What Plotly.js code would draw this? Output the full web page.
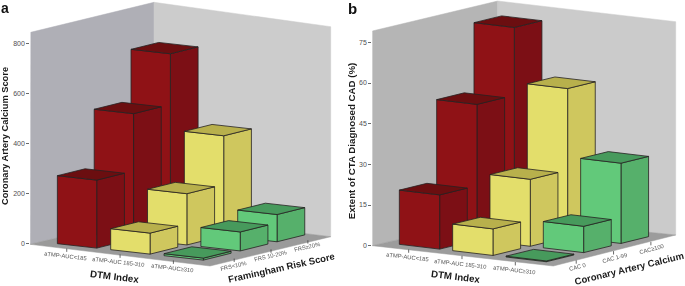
<!DOCTYPE html>
<html><head><meta charset="utf-8">
<script src="https://cdn.plot.ly/plotly-3.0.1.min.js"></script>
<style>html,body{margin:0;padding:0;background:#fff;overflow:hidden}
#chart .main-svg{will-change:opacity;opacity:.999}</style>
</head><body><div id="chart" style="width:685px;height:286px"></div>
<script>
// ---- data ----
const dtmLabels = ['aTMP-AUC<185', 'aTMP-AUC 185-310', 'aTMP-AUC≥310'];
const frsLabels = ['FRS<10%', 'FRS 10-20%', 'FRS≥20%'];
const cacLabels = ['CAC 0', 'CAC 1-99', 'CAC≥100'];
const calciumRed = [272, 501, 704];
const calciumYellow = [84, 205, 400];
const calciumGreen = [8, 76, 109];
const extentRed = [20, 50, 75];
const extentYellow = [9.8, 24.7, 54.8];
const extentGreen = [0.3, 9.7, 29.6];
const calciumTicks = [0, 200, 400, 600, 800];
const extentTicks = [0, 15, 30, 45, 60, 75];

// ---- styles ----
const W = 685, H = 286;
const faceColors = [
  {front:'#8f1216', side:'#7c0f15', top:'#6b0e10'},
  {front:'#e3de6b', side:'#cfc75e', top:'#b8b04c'},
  {front:'#62c97a', side:'#56b06b', top:'#479a5c'}
];
const FONT = '"Liberation Sans", Arial, sans-serif';

// ---- panel geometry (oblique view), page pixels ----
const panels = [
 { id:'', x0:30.3, x1:338, y0:243.7, k:0.25, yBottom:272,
   ex:[53.33,6], ey:[36.83,-9.17], c:[90.9,242.45], hw:.369, hd:.376,
   L:[30,244.3], F:[210,266], R:[330.7,236.7], B:[154,215],
   Lt:[30.7,32.3], Bt:[154,2.3], Rt:[330.7,26.7],
   leftWall:'#afafb6', backWall:'#cccccc', floor:'#9a9a9a',
   jEdge:-.656, iEdge:2.687,
   vals:[calciumRed,calciumYellow,calciumGreen], ticks:calciumTicks,
   yTitle:'Coronary Artery Calcium Score', yTitleSize:9.3, standoff:7.5, jLabels:frsLabels,
   xName:'DTM Index', xNamePos:[115,276], xNameRot:7,
   zName:'Framingham Risk Score', zNamePos:[281.7,267.5], zNameRot:-12.5,
   iLabelOff:[-1.5,7], jLabelOff:[-1,7], jRot:-13 },
 { id:'2', x0:372.3, x1:685, y0:245.7, k:2.711, yBottom:282,
   ex:[53.33,6.33], ey:[37.33,-9.17], c:[433.3,243.33], hw:.378, hd:.37,
   L:[372.3,245.7], F:[553.3,266], R:[675.7,235], B:[497.7,216.7],
   Lt:[372.3,31], Bt:[497.7,1], Rt:[675.7,21.7],
   leftWall:'#b5b5b5', backWall:'#cbcbcb', floor:'#9c9c9c',
   jEdge:-.66, iEdge:2.68,
   vals:[extentRed,extentYellow,extentGreen], ticks:extentTicks,
   yTitle:'Extent of CTA Diagnosed CAD (%)', yTitleSize:9.7, standoff:1.5, jLabels:cacLabels,
   xName:'DTM Index', xNamePos:[456,276.7], xNameRot:7,
   zName:'Coronary Artery Calcium', zNamePos:[628.5,268], zNameRot:-13.6,
   iLabelOff:[-1,7], jLabelOff:[1,7], jRot:-15 }
];

const traces = [], annotations = [];
const layout = {
  width:W, height:H, margin:{l:0,r:0,t:0,b:0}, paper_bgcolor:'#fff', plot_bgcolor:'rgba(0,0,0,0)',
  showlegend:false, hovermode:false, annotations
};

function ann(text, px, py, size, color, angle, bold) {
  annotations.push({ xref:'paper', yref:'paper', x:px/W, y:1-py/H, xanchor:'center', yanchor:'middle',
    showarrow:false, text: bold ? '<b>'+text+'</b>' : text, textangle:angle||0,
    font:{family:FONT,size,color} });
}

panels.forEach(p => {
  const ax = 'x'+p.id, ay = 'y'+p.id;
  // screen position of a category-grid point at a given value, in axis units
  const proj = (i,j,v) => [
    p.c[0] + i*p.ex[0] + j*p.ey[0],
    (p.y0 - (p.c[1] + i*p.ex[1] + j*p.ey[1])) / p.k + v
  ];
  const pix = q => [q[0], (p.y0 - q[1]) / p.k];
  const poly = (pts, fill, lineColor, lw) => {
    const a = pts.concat([pts[0]]);
    traces.push({ type:'scatter', mode:'lines', xaxis:ax, yaxis:ay, fill:'toself', fillcolor:fill,
      x:a.map(q=>q[0]), y:a.map(q=>q[1]), cliponaxis:false, hoverinfo:'skip',
      line:{color:lineColor, width:lw, simplify:false} });
  };
  // walls and floor
  poly([p.L,p.B,p.Bt,p.Lt].map(pix), p.leftWall, p.leftWall, 0.5);
  poly([p.B,p.R,p.Rt,p.Bt].map(pix), p.backWall, p.backWall, 0.5);
  poly([p.L,p.F,p.R,p.B].map(pix), p.floor, p.floor, 0.5);
  // ticks on the floor edges
  const tick = (q) => {
    const a = proj(q[0],q[1],0);
    traces.push({ type:'scatter', mode:'lines', xaxis:ax, yaxis:ay, cliponaxis:false, hoverinfo:'skip',
      x:[a[0],a[0]], y:[a[1],a[1]-3.4/p.k], line:{color:'#444',width:0.8} });
    return [a[0], p.y0 - a[1]*p.k];
  };
  dtmLabels.forEach((t,i) => {
    const s = tick([i,p.jEdge]);
    ann(t, s[0]+p.iLabelOff[0], s[1]+p.iLabelOff[1]+1, 5.8, '#555', 6.5);
  });
  p.jLabels.forEach((t,j) => {
    const s = tick([p.iEdge,j]);
    ann(t, s[0]+p.jLabelOff[0], s[1]+p.jLabelOff[1], 5.8, '#555', p.jRot);
  });
  // bars, painted back to front
  const order = [];
  for (let i=0;i<3;i++) for (let j=0;j<3;j++) order.push([i,j]);
  order.sort((a,b)=>(a[0]-a[1])-(b[0]-b[1]));
  order.forEach(([i,j]) => {
    const v = p.vals[i][j], c = faceColors[i];
    const i0=i-p.hw, i1=i+p.hw, j0=j-p.hd, j1=j+p.hd;
    poly([proj(i1,j0,0),proj(i1,j1,0),proj(i1,j1,v),proj(i1,j0,v)], c.side, '#262222', 0.8);
    poly([proj(i0,j0,0),proj(i1,j0,0),proj(i1,j0,v),proj(i0,j0,v)], c.front, '#262222', 0.8);
    poly([proj(i0,j0,v),proj(i1,j0,v),proj(i1,j1,v),proj(i0,j1,v)], c.top, '#262222', 0.8);
  });
  // real axes: x is pixel-scaled and hidden, y is the value scale
  const xName = 'xaxis'+p.id, yName = 'yaxis'+p.id;
  layout[xName] = { domain:[p.x0/W,p.x1/W], range:[p.x0,p.x1], visible:false, fixedrange:true };
  layout[yName] = { domain:[1-p.yBottom/H,1], range:[(p.y0-p.yBottom)/p.k, p.y0/p.k], anchor:ax,
    tickmode:'array', tickvals:p.ticks, ticks:'outside', ticklen:3, tickwidth:0.8, tickcolor:'#444',
    tickfont:{family:FONT,size:7,color:'#505050'}, showgrid:false, zeroline:false, showline:false, fixedrange:true,
    title:{text:'<b>'+p.yTitle+'</b>', standoff:p.standoff, font:{family:FONT,size:p.yTitleSize,color:'#1a1a1a'}} };
  ann(p.xName, p.xNamePos[0], p.xNamePos[1], 9.7, '#1a1a1a', p.xNameRot, true);
  ann(p.zName, p.zNamePos[0], p.zNamePos[1], 9.5, '#1a1a1a', p.zNameRot, true);
});
ann('a', 5, 8, 14, '#111', 0, true);
ann('b', 352, 8, 15, '#111', 0, true);
Plotly.newPlot('chart', traces, layout, {displayModeBar:false, staticPlot:true});
</script></body></html>
